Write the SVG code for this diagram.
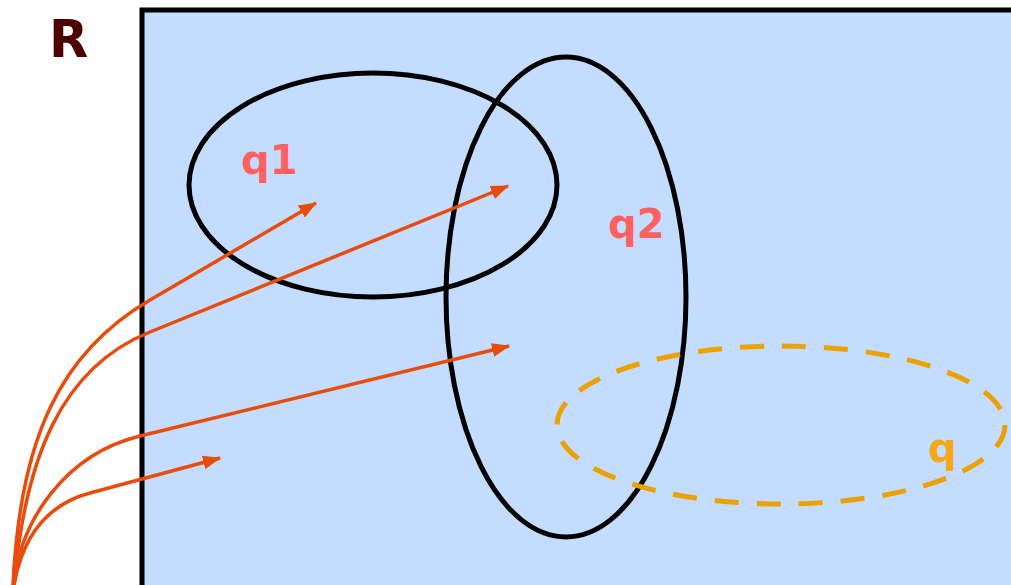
<svg xmlns="http://www.w3.org/2000/svg" width="1011" height="585" viewBox="0 0 1011 585">
<style>
.set{fill:none;stroke:#000;stroke-width:5}
.lbl{font-family:"DejaVu Sans",Verdana,sans-serif;font-weight:bold}
.arr{fill:none;stroke:#e84c0c;stroke-width:3.5;marker-end:url(#ah)}
</style>
<defs>
<marker id="ah" markerUnits="userSpaceOnUse" viewBox="0 0 18 14" markerWidth="18" markerHeight="14" refX="17" refY="7" orient="auto">
<path d="M0,0 L18,7 L0,14 Z" fill="#e84c0c"/>
</marker>
</defs>
<rect width="1011" height="585" fill="#fff"/>
<g id="R">
<rect x="142" y="10" width="900" height="600" fill="#c3dcff" stroke="#000" stroke-width="5"/>
<text class="lbl" x="49" y="57" font-size="51" fill="#4d0000">R</text>
</g>
<g id="q1">
<ellipse class="set" cx="373" cy="185" rx="184" ry="112"/>
<text class="lbl" x="241" y="174" font-size="40" fill="#ff6060">q1</text>
</g>
<g id="q2">
<ellipse class="set" cx="566" cy="297" rx="120" ry="240"/>
<text class="lbl" x="608" y="238" font-size="40" fill="#ff6060">q2</text>
</g>
<g id="q">
<ellipse cx="781" cy="425" rx="224" ry="79" fill="none" stroke="#eba200" stroke-width="5" stroke-dasharray="24 18"/>
<text class="lbl" x="928" y="462" font-size="40" fill="#f5a818">q</text>
</g>
<g id="connectors">
<path class="arr" d="M13,585 C20,440 59,353 150,300 L316,203"/>
<path class="arr" d="M14,585 C25,460 60,368 150,332 L508,186"/>
<path class="arr" d="M14,585 C20,520 66,454 140,436 L509,346"/>
<path class="arr" d="M14,585 C22,540 45,505 90,493 L220,458"/>
</g>
</svg>
